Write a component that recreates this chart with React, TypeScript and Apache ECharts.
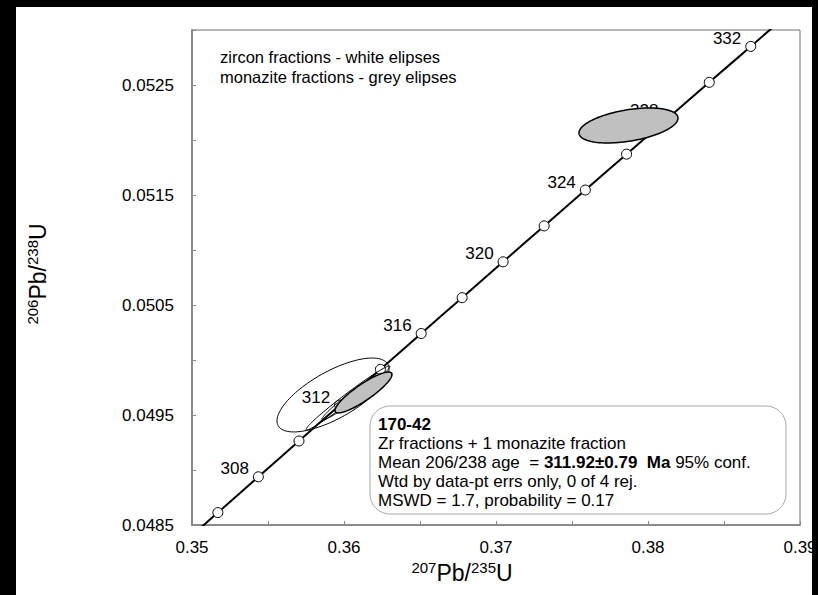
import React, { useEffect, useRef } from 'react';
import * as echarts from 'echarts';

// decay constants (per year)
const L238 = 1.55125e-10;
const L235 = 9.8485e-10;

// concordia age marks (Ma)
const markerAges = [306, 308, 310, 312, 314, 316, 318, 320, 322, 324, 326, 328, 330, 332];
const labelAges = [308, 312, 316, 320, 324, 328, 332];
const curveAges = [300, 302, 304, 305, 306, 307, 308, 309, 310, 311, 312, 313, 314, 315, 316, 317, 318, 319, 320, 321, 322, 323, 324, 325, 326, 327, 328, 329, 330, 331, 332, 333, 334, 336, 338];

// error ellipses: 207Pb/235U, err, 206Pb/238U, err, correlation
const ellX = [0.359276, 0.360263, 0.360526, 0.361283, 0.378717];
const ellXErr = [0.003684, 0.002763, 0.001974, 0.001875, 0.003257];
const ellY = [0.049682, 0.049655, 0.049664, 0.049705, 0.052132];
const ellYErr = [0.000336, 0.000291, 0.000209, 0.000186, 0.000159];
const ellRho = [0.7, 0.985, 0.97, 0.88, 0.42];
const ellMineral = ['zircon', 'zircon', 'zircon', 'monazite', 'monazite'];

// axes
const xMin = 0.35, xMax = 0.39, xStep = 0.005;
const yMin = 0.0485, yMax = 0.053, yStep = 0.0005;

const FONT = '"Liberation Sans", Arial, sans-serif';

const ratio = (lambda: number, t: number) => Math.expm1(lambda * t * 1e6);

export default function App() {
  const ref = useRef<HTMLDivElement>(null);
  useEffect(() => {
    if (!ref.current) return;
    const chart = echarts.init(ref.current, undefined, { renderer: 'svg' });
    const curve = curveAges.map((t) => [ratio(L235, t), ratio(L238, t)]);
    const markers = markerAges.map((t) => ({
      value: [ratio(L235, t), ratio(L238, t), t],
      label: { show: labelAges.includes(t) },
    }));
    const ellData = ellX.map((x, i) => [x, ellY[i], i]);

    const option: any = {
      animation: false,
      backgroundColor: '#fff',
      textStyle: { fontFamily: FONT },
      grid: {
        left: 192, right: 18, top: 30, bottom: 70,
        show: true, borderColor: '#707070', borderWidth: 1,
        outerBoundsMode: 'none',
      },
      xAxis: {
        type: 'value', min: xMin, max: xMax, interval: xStep,
        axisLine: { show: true, lineStyle: { color: '#8a8a8a', width: 2 } },
        axisTick: { show: true, inside: true, length: 4, lineStyle: { color: '#8a8a8a', width: 1 } },
        splitLine: { show: false },
        axisLabel: {
          color: '#000', fontSize: 17, fontFamily: FONT, margin: 14,
          formatter: (v: number) => (Math.round(v * 1000) % 10 === 0 ? v.toFixed(2) : ''),
        },
      },
      yAxis: {
        type: 'value', min: yMin, max: yMax, interval: yStep,
        axisLine: { show: true, lineStyle: { color: '#8a8a8a', width: 2 } },
        axisTick: { show: true, inside: true, length: 4, lineStyle: { color: '#8a8a8a', width: 1 } },
        splitLine: { show: false },
        axisLabel: {
          color: '#000', fontSize: 17, fontFamily: FONT, margin: 18,
          formatter: (v: number) => (Math.round(v * 10000) % 10 === 5 ? v.toFixed(4) : ''),
        },
      },
      series: [
        {
          type: 'line', data: curve, showSymbol: false, symbol: 'none', clip: true,
          lineStyle: { color: '#000', width: 2 }, z: 2, silent: true,
        },
        {
          type: 'scatter', data: markers, symbol: 'circle', symbolSize: 10, clip: true,
          itemStyle: { color: '#fff', borderColor: '#000', borderWidth: 1, opacity: 1 }, z: 2,
          label: {
            show: false, position: 'left', distance: 4, offset: [0, -8],
            formatter: (p: any) => String(p.value[2]), color: '#000', opacity: 1,
            fontSize: 17, fontFamily: FONT, textBorderWidth: 0,
          },
        },
        {
          type: 'custom', data: ellData, z: 3, clip: true,
          renderItem: (params: any, api: any) => {
            const i = params.dataIndex;
            const rho = ellRho[i];
            const pts: number[][] = [];
            const n = 120;
            for (let k = 0; k < n; k++) {
              const th = (k / n) * Math.PI * 2;
              const X = ellX[i] + ellXErr[i] * Math.cos(th);
              const Y = ellY[i] + ellYErr[i] * (rho * Math.cos(th) + Math.sqrt(1 - rho * rho) * Math.sin(th));
              pts.push(api.coord([X, Y]));
            }
            const grey = ellMineral[i] === 'monazite';
            return {
              type: 'polygon',
              shape: { points: pts },
              style: { fill: grey ? '#c0c0c0' : 'none', stroke: '#000', lineWidth: grey ? 1.5 : 1 },
            };
          },
        },
      ],
      graphic: [
        {
          type: 'text', left: 220, top: 48, z: 10,
          style: { text: 'zircon fractions - white elipses', fontSize: 16.5, fontFamily: FONT, fill: '#000' },
        },
        {
          type: 'text', left: 220, top: 68, z: 10,
          style: { text: 'monazite fractions - grey elipses', fontSize: 16.5, fontFamily: FONT, fill: '#000' },
        },
        {
          type: 'rect', z: 1,
          shape: { x: 370, y: 406, width: 416, height: 108, r: 20 },
          style: { fill: '#fff', stroke: '#a8a8a8', lineWidth: 1 },
        },
        {
          type: 'text', x: 378, y: 424, z: 10,
          style: { text: '170-42', fontSize: 17, fontWeight: 'bold', fontFamily: FONT, fill: '#000', verticalAlign: 'middle' },
        },
        {
          type: 'text', x: 378, y: 443, z: 10,
          style: { text: 'Zr fractions + 1 monazite fraction', fontSize: 17, fontFamily: FONT, fill: '#000', verticalAlign: 'middle' },
        },
        {
          type: 'text', x: 378, y: 462, z: 10,
          style: {
            text: '{n|Mean 206/238 age  = }{b|311.92±0.79  Ma}{n| 95% conf.}',
            verticalAlign: 'middle',
            rich: {
              n: { fontSize: 17, fontFamily: FONT, fill: '#000' },
              b: { fontSize: 17, fontFamily: FONT, fontWeight: 'bold', fill: '#000' },
            },
          },
        },
        {
          type: 'text', x: 378, y: 481, z: 10,
          style: { text: 'Wtd by data-pt errs only, 0 of 4 rej.', fontSize: 17, fontFamily: FONT, fill: '#000', verticalAlign: 'middle' },
        },
        {
          type: 'text', x: 378, y: 500, z: 10,
          style: { text: 'MSWD = 1.7, probability = 0.17', fontSize: 17, fontFamily: FONT, fill: '#000', verticalAlign: 'middle' },
        },
        {
          type: 'text', x: 462, y: 573, z: 10,
          style: {
            text: '{s|207}{m|Pb/}{s|235}{m|U}',
            align: 'center', verticalAlign: 'middle',
            rich: {
              s: { fontSize: 15, lineHeight: 15, verticalAlign: 'top', fontFamily: FONT, fill: '#000' },
              m: { fontSize: 23, lineHeight: 27, fontFamily: FONT, fill: '#000' },
            },
          },
        },
        {
          type: 'text', x: 38, y: 274, z: 10, rotation: Math.PI / 2,
          style: {
            text: '{s|206}{m|Pb/}{s|238}{m|U}',
            align: 'center', verticalAlign: 'middle',
            rich: {
              s: { fontSize: 15, lineHeight: 15, verticalAlign: 'top', fontFamily: FONT, fill: '#000' },
              m: { fontSize: 23, lineHeight: 27, fontFamily: FONT, fill: '#000' },
            },
          },
        },
        { type: 'rect', z: 100, shape: { x: 0, y: 0, width: 818, height: 7 }, style: { fill: '#000' } },
        { type: 'rect', z: 100, shape: { x: 0, y: 0, width: 16, height: 595 }, style: { fill: '#000' } },
        { type: 'rect', z: 100, shape: { x: 812, y: 0, width: 6, height: 595 }, style: { fill: '#000' } },
      ],
    };
    chart.setOption(option);
    return () => chart.dispose();
  }, []);
  return <div ref={ref} style={{ position: 'fixed', left: 0, top: 0, width: 818, height: 595 }} />;
}
